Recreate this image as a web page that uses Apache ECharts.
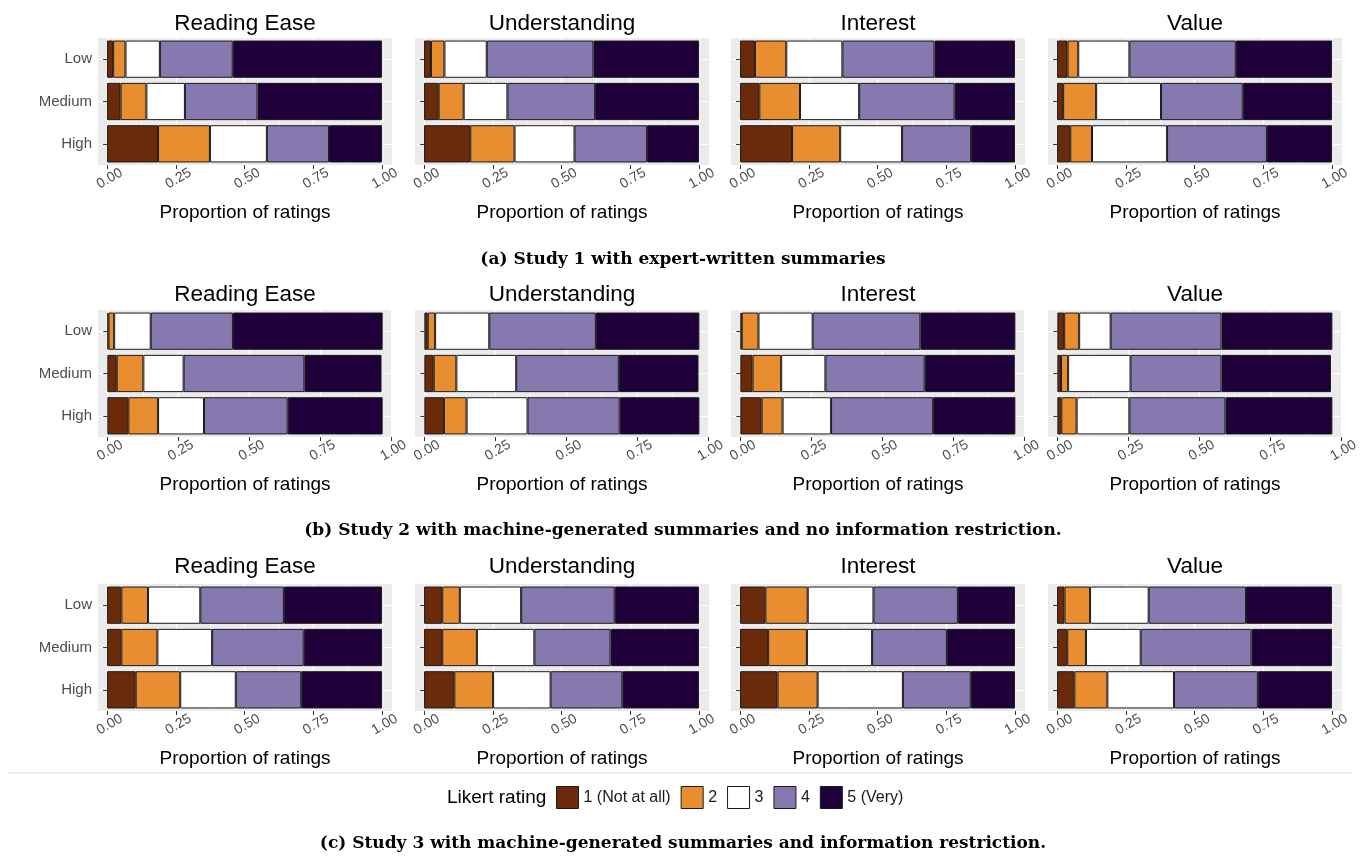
<!DOCTYPE html>
<html>
<head>
<meta charset="utf-8">
<title>Likert ratings by study</title>
<script src="https://cdn.jsdelivr.net/npm/echarts@6.0.0/dist/echarts.min.js"></script>
<style>
  html, body { margin: 0; padding: 0; background: #ffffff; }
  #chart { width: 1366px; height: 861px; }
</style>
</head>
<body>
<div id="chart"></div>
<script>
// Panel labels
const metrics = ['Reading Ease', 'Understanding', 'Interest', 'Value'];
const levels = ['Low', 'Medium', 'High'];
const ratings = ['1 (Not at all)', '2', '3', '4', '5 (Very)'];
const xTicks = [0, 0.25, 0.5, 0.75, 1];
const xMinorTicks = [0.125, 0.375, 0.625, 0.875];
const captions = [
  '(a) Study 1 with expert-written summaries',
  '(b) Study 2 with machine-generated summaries and no information restriction.',
  '(c) Study 3 with machine-generated summaries and information restriction.'
];

// Shares per level row (Low, Medium, High), five ratings each
const study1ReadingEase = [[0.022, 0.045, 0.125, 0.265, 0.543], [0.049, 0.094, 0.140, 0.264, 0.453], [0.185, 0.189, 0.207, 0.226, 0.193]];
const study1Understanding = [[0.025, 0.049, 0.154, 0.388, 0.384], [0.053, 0.091, 0.159, 0.319, 0.378], [0.168, 0.161, 0.218, 0.264, 0.189]];
const study1Interest = [[0.054, 0.114, 0.204, 0.335, 0.293], [0.070, 0.148, 0.215, 0.347, 0.220], [0.189, 0.175, 0.225, 0.251, 0.160]];
const study1Value = [[0.038, 0.039, 0.186, 0.387, 0.350], [0.022, 0.120, 0.236, 0.297, 0.325], [0.048, 0.079, 0.273, 0.363, 0.237]];

const study2ReadingEase = [[0.004, 0.020, 0.129, 0.290, 0.528], [0.033, 0.094, 0.142, 0.426, 0.272], [0.074, 0.105, 0.162, 0.295, 0.335]];
const study2Understanding = [[0.012, 0.026, 0.191, 0.376, 0.365], [0.033, 0.080, 0.211, 0.362, 0.281], [0.069, 0.080, 0.215, 0.325, 0.281]];
const study2Interest = [[0.005, 0.059, 0.191, 0.380, 0.335], [0.043, 0.101, 0.156, 0.350, 0.318], [0.075, 0.074, 0.171, 0.360, 0.290]];
const study2Value = [[0.024, 0.053, 0.111, 0.391, 0.391], [0.013, 0.025, 0.220, 0.321, 0.386], [0.014, 0.054, 0.186, 0.339, 0.377]];

const study3ReadingEase = [[0.052, 0.097, 0.190, 0.304, 0.357], [0.052, 0.131, 0.199, 0.333, 0.285], [0.104, 0.162, 0.202, 0.238, 0.294]];
const study3Understanding = [[0.066, 0.064, 0.223, 0.340, 0.307], [0.066, 0.126, 0.209, 0.277, 0.322], [0.110, 0.141, 0.209, 0.261, 0.279]];
const study3Interest = [[0.092, 0.154, 0.239, 0.307, 0.208], [0.102, 0.141, 0.237, 0.272, 0.248], [0.136, 0.146, 0.310, 0.247, 0.161]];
const study3Value = [[0.027, 0.093, 0.213, 0.354, 0.313], [0.037, 0.068, 0.199, 0.403, 0.293], [0.063, 0.120, 0.242, 0.305, 0.270]];

const studies = [
  [study1ReadingEase, study1Understanding, study1Interest, study1Value],
  [study2ReadingEase, study2Understanding, study2Interest, study2Value],
  [study3ReadingEase, study3Understanding, study3Interest, study3Value]
];

// layout
const colors = ['#6b2a0a', '#e88e31', '#ffffff', '#8779b0', '#20003a'];
const panelLeft = [98, 415, 731, 1048];
const panelTop = [38, 310, 584];
const titleTop = [12, 283, 555];
const captionTop = [251, 522, 835];
const panelW = 294;
const panelH = 127;
const axisMin = -0.033;
const axisMax = [1.036, 1.004, 1.036];

const chart = echarts.init(document.getElementById('chart'));

const grids = [];
const xAxes = [];
const yAxes = [];
const series = [];
const titles = [];

studies.forEach((row, r) => {
  row.forEach((panel, c) => {
    const p = r * 4 + c;
    grids.push({
      left: panelLeft[c], top: panelTop[r], width: panelW, height: panelH,
      show: true, backgroundColor: '#ebebeb', borderWidth: 0
    });
    // main axis: labels, ticks, major grid
    xAxes.push({
      gridIndex: p, type: 'value', min: axisMin, max: axisMax[r],
      axisLine: { show: false },
      axisTick: { show: true, length: 4, customValues: xTicks, lineStyle: { color: '#333333' } },
      axisLabel: {
        customValues: xTicks, rotate: 30, align: 'center', verticalAlign: 'middle',
        margin: 15, color: '#4d4d4d', fontSize: 14, padding: [0, 0, 0, 6],
        formatter: v => v.toFixed(2)
      },
      splitLine: { show: true, lineStyle: { color: '#ffffff', width: 1.2 } },
      name: 'Proportion of ratings', nameLocation: 'middle', nameGap: 38,
      nameTextStyle: { fontSize: 19, color: '#000000' }
    });
    // helper axis for the minor grid lines
    xAxes.push({
      gridIndex: p, type: 'value', min: axisMin, max: axisMax[r], position: 'bottom',
      axisLine: { show: false },
      axisTick: { show: false, customValues: xMinorTicks },
      axisLabel: { show: false },
      splitLine: { show: true, lineStyle: { color: '#ffffff', width: 0.6 } }
    });
    yAxes.push({
      gridIndex: p, type: 'category', data: levels, inverse: true,
      axisLine: { show: false },
      axisTick: { show: true, alignWithLabel: true, length: 4, lineStyle: { color: '#333333' } },
      axisLabel: { show: c === 0, color: '#4d4d4d', fontSize: 15, margin: 6 },
      splitLine: { show: true, alignWithLabel: true, lineStyle: { color: '#ffffff', width: 1.2 } }
    });
    ratings.forEach((name, k) => {
      series.push({
        type: 'bar', name: name,
        xAxisIndex: p * 2, yAxisIndex: p, stack: 'panel' + p,
        data: levels.map((lv, l) => panel[l][k]),
        barCategoryGap: '12%',
        itemStyle: { color: colors[k], borderColor: '#1a1a1a', borderWidth: 1 },
        silent: true
      });
    });
    titles.push({
      text: metrics[c], left: panelLeft[c] + panelW / 2, top: titleTop[r],
      textAlign: 'center', padding: 0,
      textStyle: { fontSize: 22.5, fontWeight: 'normal', color: '#000000' }
    });
  });
  titles.push({
    text: captions[r], left: 683, top: captionTop[r], textAlign: 'center', padding: 0,
    textStyle: { fontSize: 17, fontWeight: 'bold', color: '#000000', fontFamily: 'DejaVu Serif' }
  });
});

titles.push({
  text: 'Likert rating', left: 447, top: 788, padding: 0,
  textStyle: { fontSize: 19, fontWeight: 'normal', color: '#000000' }
});

const option = {
  animation: false,
  backgroundColor: '#ffffff',
  textStyle: { fontFamily: 'Liberation Sans, Arial, sans-serif' },
  title: titles,
  legend: {
    left: 556, top: 786, padding: 0,
    itemWidth: 22, itemHeight: 22, itemGap: 10,
    icon: 'rect', selectedMode: false,
    itemStyle: { borderColor: '#1a1a1a', borderWidth: 1 },
    textStyle: { fontSize: 16, color: '#1a1a1a' },
    data: ratings
  },
  graphic: [{
    type: 'line', shape: { x1: 8, y1: 773, x2: 1352, y2: 773 },
    style: { stroke: '#e0e0e0', lineWidth: 1 }
  }],
  grid: grids,
  xAxis: xAxes,
  yAxis: yAxes,
  series: series
};

chart.setOption(option);
</script>
</body>
</html>
